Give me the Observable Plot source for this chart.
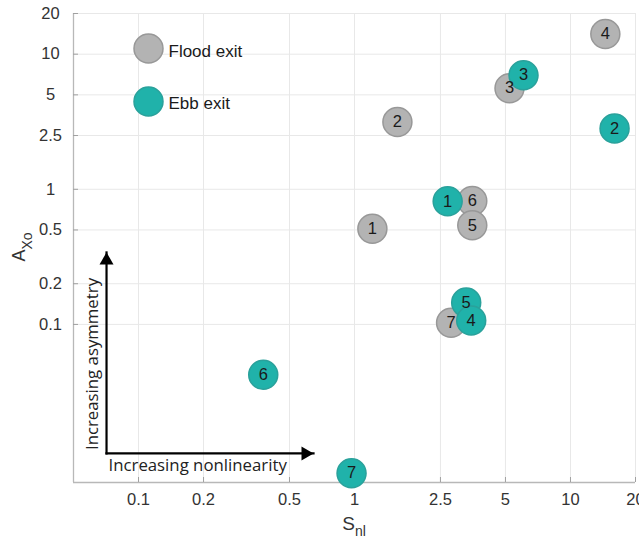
<!DOCTYPE html>
<html><head><meta charset="utf-8">
<script src="https://cdn.jsdelivr.net/npm/d3@7"></script>
<script src="https://cdn.jsdelivr.net/npm/@observablehq/plot@0.6"></script>
<style>
body{margin:0;background:#fff;}
#chart svg{display:block;overflow:visible}
</style></head><body><div id="chart"></div>
<script>
// ---- data ----
const sites = ["1", "2", "3", "4", "5", "6", "7"];
const floodSnl = [1.21, 1.58, 5.22, 14.5, 3.51, 3.51, 2.80];
const floodAxo = [0.511, 3.15, 5.60, 14.1, 0.541, 0.819, 0.103];
const ebbSnl   = [2.70, 16.0, 6.06, 3.47, 3.29, 0.378, 0.969];
const ebbAxo   = [0.815, 2.82, 6.99, 0.107, 0.145, 0.0424, 0.00792];
const seriesNames = ["Flood exit", "Ebb exit"];
const xTicks = [0.1, 0.2, 0.5, 1, 2.5, 5, 10, 20];
const yTicks = [0.1, 0.2, 0.5, 1, 2.5, 5, 10, 20];
const xTickLabels = ["0.1", "0.2", "0.5", "1", "2.5", "5", "10", "20"];
const yTickLabels = ["0.1", "0.2", "0.5", "1", "2.5", "5", "10", "20"];
const xDomain = [0.05, 20];
const yDomain = [0.00676, 20];
const guideLabels = ["Increasing asymmetry", "Increasing nonlinearity"];
const guideArrows = [
  {x1: 0.0711, y1: 0.0111, x2: 0.0711, y2: 0.341},
  {x1: 0.0711, y1: 0.0111, x2: 0.646, y2: 0.0111}
];

// ---- styles ----
const GRAY = "#b3b3b3", GRAY_STROKE = "#989898";
const TEAL = "#20b2aa", TEAL_STROKE = "#2aa19b";
const R = 14.5;
const order = d3.range(sites.length).reverse();
const tickIdx = d3.range(xTicks.length);

const plot = Plot.plot({
  width: 639, height: 541,
  marginLeft: 73, marginRight: 4, marginTop: 13, marginBottom: 59,
  x: {type: "log", domain: xDomain, axis: null},
  y: {type: "log", domain: yDomain, axis: null},
  style: {fontFamily: "'Liberation Sans', Arial, sans-serif", fontSize: "16.5px", color: "#333", background: "white"},
  marks: [
    // grid
    Plot.ruleX(xTicks, {stroke: "#e8e8e8", strokeWidth: 1}),
    Plot.ruleY(yTicks, {stroke: "#e8e8e8", strokeWidth: 1}),
    // axis lines
    Plot.ruleX([xDomain[0]], {stroke: "#b8b8b8", strokeWidth: 1.3}),
    Plot.ruleY([yDomain[0]], {stroke: "#b8b8b8", strokeWidth: 1.3}),
    // inward ticks
    Plot.ruleX(xTicks, {stroke: "#a0a0a0", insetTop: 464}),
    Plot.ruleY(yTicks, {stroke: "#a0a0a0", insetRight: 557}),
    // tick labels
    Plot.text(tickIdx, {x: i => xTicks[i], text: i => xTickLabels[i], frameAnchor: "bottom", lineAnchor: "middle", dy: 17, fontSize: 16.5, fill: "#333"}),
    Plot.text(tickIdx, {y: i => yTicks[i], text: i => yTickLabels[i], frameAnchor: "left", textAnchor: "middle", lineAnchor: "middle", dx: -23, fontSize: 16.5, fill: "#333"}),
    // guide arrows
    Plot.link(guideArrows, {x1: "x1", y1: "y1", x2: "x2", y2: "y2", stroke: "black", strokeWidth: 2.2, strokeLinecap: "square"}),
    Plot.dot([guideArrows[0]], {x: "x2", y: "y2", symbol: "triangle", r: 5.2, fill: "black", stroke: "none", dy: 8}),
    Plot.dot([guideArrows[1]], {x: "x2", y: "y2", symbol: "triangle", r: 5.2, fill: "black", stroke: "none", rotate: 90, dx: -8}),
    Plot.text([guideLabels[0]], {frameAnchor: "left", textAnchor: "middle", lineAnchor: "middle", dx: 19, dy: 116, rotate: -90, fontFamily: "'Open Sans', sans-serif", fontSize: 16.8, fill: "#222"}),
    Plot.text([guideLabels[1]], {frameAnchor: "bottom-left", textAnchor: "start", lineAnchor: "middle", dx: 35, dy: -17, fontFamily: "'Open Sans', sans-serif", fontSize: 16.8, fill: "#222"}),
    // legend
    Plot.dot([seriesNames[0]], {frameAnchor: "top-left", dx: 75, dy: 35, r: R, fill: GRAY, stroke: GRAY_STROKE}),
    Plot.dot([seriesNames[1]], {frameAnchor: "top-left", dx: 75, dy: 88, r: R, fill: TEAL, stroke: TEAL_STROKE}),
    Plot.text([seriesNames[0]], {frameAnchor: "top-left", lineAnchor: "middle", dx: 95, dy: 38, textAnchor: "start", fontSize: 17, fill: "#1a1a1a"}),
    Plot.text([seriesNames[1]], {frameAnchor: "top-left", lineAnchor: "middle", dx: 95, dy: 90, textAnchor: "start", fontSize: 17, fill: "#1a1a1a"}),
    // data points
    Plot.dot(order, {x: i => floodSnl[i], y: i => floodAxo[i], r: R, fill: GRAY, stroke: GRAY_STROKE}),
    Plot.dot(order, {x: i => ebbSnl[i], y: i => ebbAxo[i], r: R, fill: TEAL, stroke: TEAL_STROKE}),
    Plot.text(order, {x: i => floodSnl[i], y: i => floodAxo[i], text: i => sites[i], fontSize: 16.5, fill: "#1a1a1a"}),
    Plot.text(order, {x: i => ebbSnl[i], y: i => ebbAxo[i], text: i => sites[i], fontSize: 16.5, fill: "#1a1a1a"})
  ]
});

// axis titles with subscripts
const svg = d3.select(plot);
const yt = svg.append("text")
  .attr("transform", "translate(25,247) rotate(-90)")
  .attr("text-anchor", "middle")
  .attr("fill", "#333")
  .style("font-family", "'Liberation Sans', Arial, sans-serif")
  .style("font-size", "18px");
yt.append("tspan").text("A");
yt.append("tspan").attr("dy", 7).style("font-size", "14px").text("Xo");

const xt = svg.append("text")
  .attr("transform", "translate(354,530)")
  .attr("text-anchor", "middle")
  .attr("fill", "#333")
  .style("font-family", "'Liberation Sans', Arial, sans-serif")
  .style("font-size", "19px");
xt.append("tspan").text("S");
xt.append("tspan").attr("dy", 6).style("font-size", "14px").text("nl");

document.getElementById("chart").appendChild(plot);
</script>
</body></html>
